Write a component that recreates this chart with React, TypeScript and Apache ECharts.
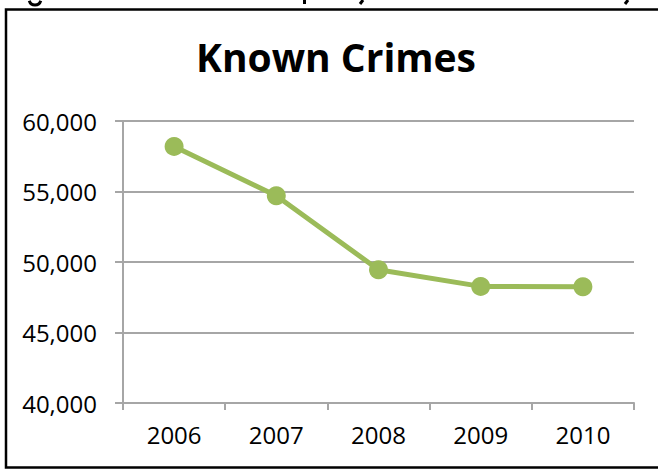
import React, { useEffect, useRef } from "react";
import * as echarts from "echarts";

const years = ["2006", "2007", "2008", "2009", "2010"];
const knownCrimes = [58200, 54700, 49450, 48270, 48250];
const titleText = "Known Crimes";

export default function App() {
  const ref = useRef<HTMLDivElement>(null);
  useEffect(() => {
    if (!ref.current) return;
    const chart = echarts.init(ref.current, null, { renderer: "svg" });
    chart.setOption({
      animation: false,
      backgroundColor: "#ffffff",
      title: {
        text: titleText,
        left: 331,
        textAlign: "center",
        top: 32,
        textStyle: {
          fontFamily: "Open Sans",
          fontWeight: "bold",
          fontSize: 39,
          color: "#000000",
        },
      },
      graphic: [
        {
          type: "rect",
          shape: { x: 6, y: 9.5, width: 670, height: 458 },
          style: { fill: "none", stroke: "#000000", lineWidth: 2.5 },
          silent: true,
        },
        {
          type: "arc",
          shape: { cx: 35, cy: -1, r: 6, startAngle: 0.3, endAngle: Math.PI - 0.3 },
          style: { stroke: "#000", lineWidth: 3, fill: "none" },
          silent: true,
        },
        { type: "rect", shape: { x: 303, y: 0, width: 3, height: 4 }, style: { fill: "#000" }, silent: true },
        { type: "line", shape: { x1: 363, y1: 0, x2: 360, y2: 4 }, style: { stroke: "#000", lineWidth: 3 }, silent: true },
        { type: "line", shape: { x1: 628, y1: 0, x2: 625, y2: 4 }, style: { stroke: "#000", lineWidth: 3 }, silent: true },
      ],
      grid: { left: 123, right: 24, top: 121, bottom: 67, containLabel: false },
      xAxis: {
        type: "category",
        data: years,
        boundaryGap: true,
        axisLine: { show: true, lineStyle: { color: "#a6a6a6", width: 2 } },
        axisTick: { show: true, length: 7, inside: false, alignWithLabel: false, lineStyle: { color: "#a6a6a6", width: 2 } },
        axisLabel: { margin: 19, fontFamily: "Open Sans", fontSize: 24, color: "#000000" },
        splitLine: { show: false },
      },
      yAxis: {
        type: "value",
        min: 40000,
        max: 60000,
        interval: 5000,
        axisLine: { show: true, lineStyle: { color: "#a6a6a6", width: 2 } },
        axisTick: { show: true, length: 8, lineStyle: { color: "#a6a6a6", width: 2 } },
        axisLabel: {
          margin: 26,
          fontFamily: "Open Sans",
          fontSize: 24,
          color: "#000000",
          formatter: (v: number) => v.toLocaleString("en-US"),
        },
        splitLine: { show: true, lineStyle: { color: "#a6a6a6", width: 2 } },
      },
      series: [
        {
          type: "line",
          data: knownCrimes,
          symbol: "circle",
          symbolSize: 19,
          lineStyle: { color: "#9bbb59", width: 5 },
          itemStyle: { color: "#9bbb59" },
        },
      ],
    });
    return () => chart.dispose();
  }, []);
  return (
    <div
      ref={ref}
      style={{ position: "fixed", left: 0, top: 0, width: 658, height: 470 }}
    />
  );
}
